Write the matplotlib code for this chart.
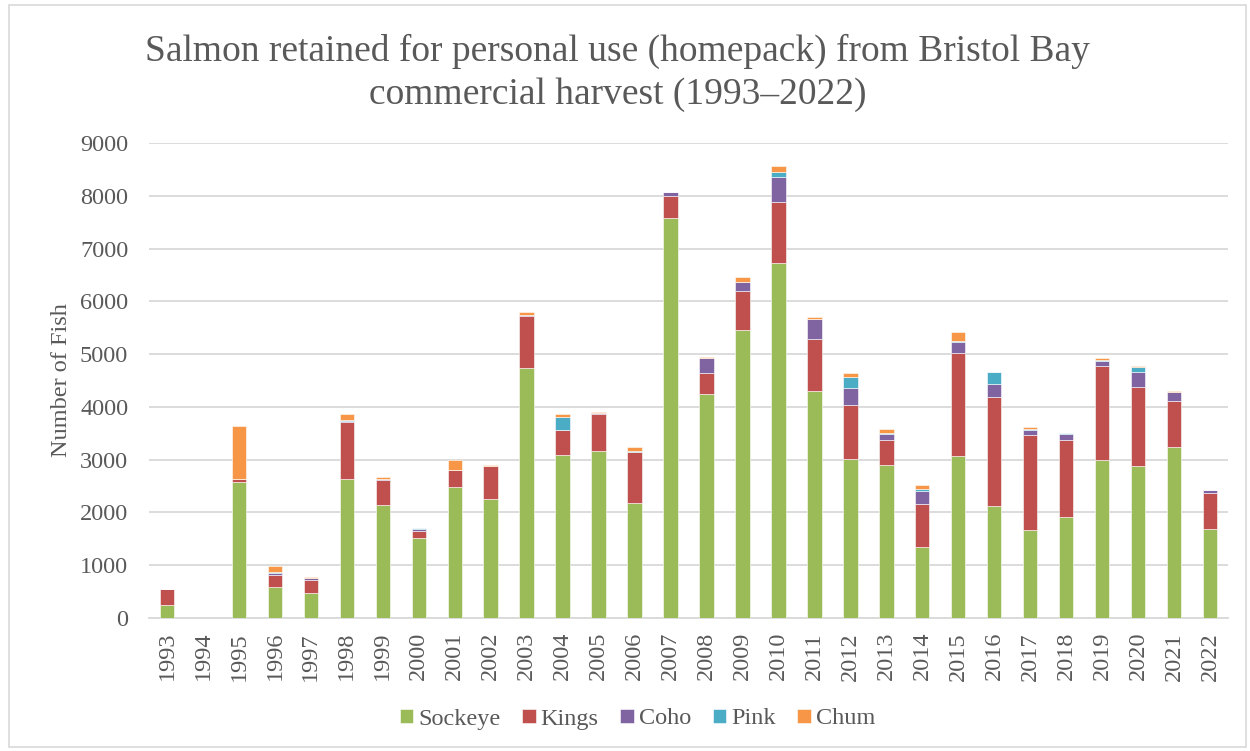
import matplotlib
matplotlib.use("Agg")
import matplotlib.pyplot as plt
import matplotlib.patches as patches
import numpy as np

# values (number of fish)
years = [str(y) for y in range(1993, 2023)]
sockeye = [253, 0, 2571, 594, 480, 2640, 2147, 1510, 2489, 2248,
           4737, 3095, 3171, 2185, 7585, 4251, 5463, 6726, 4307, 3019,
           2899, 1352, 3076, 2116, 1667, 1920, 3000, 2886, 3246, 1693]
kings = [297, 0, 69, 227, 246, 1067, 474, 132, 309, 626,
         979, 461, 694, 954, 411, 391, 727, 1156, 986, 1023,
         467, 802, 1939, 2071, 1807, 1453, 1775, 1491, 866, 682]
coho = [0, 0, 0, 32, 32, 26, 6, 38, 0, 0,
        19, 5, 19, 15, 69, 278, 176, 480, 372, 310,
        114, 252, 215, 247, 94, 107, 101, 284, 170, 50]
pink = [0, 0, 0, 25, 0, 19, 0, 25, 0, 0,
        0, 247, 0, 17, 0, 0, 0, 95, 0, 221,
        25, 45, 18, 221, 19, 25, 15, 101, 0, 0]
chum = [0, 0, 1004, 101, 19, 113, 51, 0, 202, 25,
        63, 57, 13, 75, 13, 19, 89, 101, 38, 69,
        76, 69, 165, 12, 38, 0, 42, 13, 25, 0]

series = [("Sockeye", sockeye, "#9BBB59"),
          ("Kings", kings, "#C0504D"),
          ("Coho", coho, "#8064A2"),
          ("Pink", pink, "#4BACC6"),
          ("Chum", chum, "#F79646")]

text_col = "#595959"
plt.rcParams["font.family"] = ["Liberation Serif", "DejaVu Serif"]

fig = plt.figure(figsize=(12.5, 7.51), dpi=100)
ax = fig.add_axes([149 / 1250, 1 - 618 / 751, (1228 - 149) / 1250, (618 - 143) / 751])

x = np.arange(len(years))
bottom = np.zeros(len(years))
for name, vals, col in series:
    vals = np.array(vals, dtype=float)
    ax.bar(x, vals, width=0.4, bottom=bottom, color=col, label=name,
           edgecolor="white", linewidth=0.4, zorder=3)
    bottom += vals

ax.set_xlim(-0.5, len(years) - 0.5)
ax.set_ylim(0, 9000)
ax.set_yticks(range(0, 9001, 1000))
ax.set_xticks(x)
ax.set_xticklabels(years, rotation=90)
ax.grid(axis="y", color="#D9D9D9", linewidth=1.3, zorder=0)
ax.tick_params(axis="both", length=0, labelsize=17.5, colors=text_col)
ax.tick_params(axis="y", pad=15)
ax.tick_params(axis="x", pad=10)
for s in ["top", "right", "left"]:
    ax.spines[s].set_visible(False)
ax.spines["bottom"].set_color("#D9D9D9")
ax.spines["bottom"].set_linewidth(1.3)

ax.set_ylabel("Number of Fish", fontsize=17.5, color=text_col)
ax.yaxis.set_label_coords(-0.071, 0.5)

fig.text(0.494, 1 - 73 / 751, "Salmon retained for personal use (homepack) from Bristol Bay\ncommercial harvest (1993\u20132022)",
         ha="center", va="center", fontsize=27, color=text_col, linespacing=1.3)

leg = fig.legend(loc="center", bbox_to_anchor=(0.51, 1 - 719 / 751), ncol=5, frameon=False,
                 fontsize=17.5, handlelength=0.55, handleheight=0.55, handletextpad=0.2,
                 columnspacing=0.9)
for t in leg.get_texts():
    t.set_color(text_col)

fig.patches.append(patches.Rectangle((9 / 1250, 4 / 751), 1237 / 1250, 742 / 751,
                                     transform=fig.transFigure, fill=False,
                                     edgecolor="#D9D9D9", linewidth=1.2))

fig.savefig("out.png", dpi=100)
